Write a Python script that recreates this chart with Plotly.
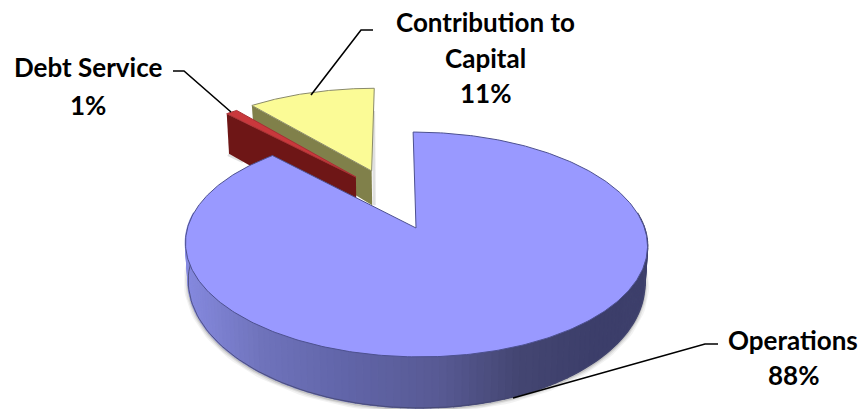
import numpy as np
import plotly.graph_objects as go

# Budget shares shown on the pie
categories = ["Operations", "Debt Service", "Contribution to Capital"]
shares = [88, 1, 11]

# Label lines with their centre positions in pixels
label_lines = [
    "Debt Service", "1%",
    "Contribution to", "Capital", "11%",
    "Operations", "88%",
]
label_x = [88, 88, 485, 485, 485, 793, 793]
label_y = [67, 105, 22, 58, 93, 340, 375]

# Leader lines from labels to slices, in pixels
leader_x = [[173, 184, 231], [373, 361, 311], [718, 705, 513]]
leader_y = [[71, 71, 112], [30, 30, 95], [344, 344, 398]]

W, H = 866, 409
CX, CY = 416, 228          # projected pie centre
RX, RY = 228.5, 110        # projected radii
PERSP = 0.1467             # foreshortening along the view axis
SHEAR = 0.03               # slight lean of the view
THICK = 36.0               # extrusion depth
THICK_POWER = 2.2          # how fast depth grows toward the viewer
TAPER = 0.988              # lower rim narrows slightly

slice_styles = {
    "Operations": dict(offset=(0.0, 0.0), top="#9999FF", edge="#4d5190", side="#555890", depth=1.0),
    "Debt Service": dict(offset=(-0.275, 0.497), top="#C9383C", edge="#a83034", side="#6E1616", depth=1.6),
    "Contribution to Capital": dict(offset=(-0.202, 0.561), top="#FBFB96", edge="#8a8a6a", side="#80804A", depth=1.13),
}

def project(u, v):
    """Map unit-disc coordinates onto the tilted pie plane."""
    u, v = np.asarray(u, float), np.asarray(v, float)
    w = 1 + PERSP * v
    y = CY - RY * v / w
    x = CX + RX * u / w - SHEAR * (CY - y)
    return x, y

def lower(u, v, depth=1.0):
    """Point on the underside directly below a top-surface point."""
    x, y = project(u, v)
    w = 1 + PERSP * np.asarray(v, float)
    return CX + (x - CX) * TAPER, y + depth * THICK / w ** THICK_POWER

def wedge(start, stop, offset, n=160):
    t = np.radians(np.linspace(start, stop, n))
    u = np.concatenate([[0], np.sin(t), [0]]) + offset[0]
    v = np.concatenate([[0], np.cos(t), [0]]) + offset[1]
    return project(u, v)

def polygon(x, y, fill, line=None, width=0):
    return go.Scatter(
        x=list(x), y=list(y), mode="lines", fill="toself", fillcolor=fill,
        line=dict(color=line or fill, width=width), hoverinfo="skip", showlegend=False,
    )

def blend(x):
    """Rim shading from lit left to dark right."""
    stops_x = [185, 260, 340, 440, 520, 600, 648]
    stops_c = np.array([
        [134, 138, 224], [112, 116, 188], [98, 102, 170], [88, 90, 148],
        [68, 70, 114], [60, 62, 106], [62, 64, 108],
    ])
    rgb = [np.interp(x, stops_x, stops_c[:, i]) for i in range(3)]
    return "rgb(%d,%d,%d)" % tuple(int(c) for c in rgb)

fig = go.Figure()

# Slice angles, clockwise from twelve o'clock
total = sum(shares)
ends = np.cumsum(shares) / total * 360
starts = np.concatenate([[0], ends[:-1]])
angles = {c: (s, e) for c, s, e in zip(categories, starts, ends)}

def cut_face(name):
    """Flat face along the leading cut of an exploded slice."""
    style = slice_styles[name]
    a = np.radians(angles[name][0])
    ou, ov = style["offset"]
    us = np.array([ou, ou + np.sin(a)])
    vs = np.array([ov, ov + np.cos(a)])
    x0, y0 = project(us, vs)
    x1, y1 = lower(us, vs, style["depth"])
    xs = [x0[0], x0[1], x1[1], x1[0]]
    ys = [y0[0], y0[1], y1[1], y1[0]]
    return xs, ys, style

# Soft shadow next to the capital slice
yx, yy, ystyle = cut_face("Contribution to Capital")
fig.add_trace(go.Scatter(
    x=[yx[0] + 2, yx[3] + 2], y=[yy[0] - 60, yy[3]], mode="lines",
    line=dict(color="rgba(0,0,0,0.12)", width=3), hoverinfo="skip", showlegend=False,
))

# Capital slice
fig.add_trace(polygon(yx, yy, ystyle["side"]))
gx, gy = wedge(*angles["Contribution to Capital"], ystyle["offset"])
fig.add_trace(polygon(gx, gy, ystyle["top"], ystyle["edge"], 1))

# Debt slice, nearer the viewer than the capital slice
rx_, ry_, rstyle = cut_face("Debt Service")
fig.add_trace(go.Scatter(
    x=[rx_[2] - 1, rx_[2] + 14], y=[ry_[2] + 1, ry_[2] + 8], mode="lines",
    line=dict(color="rgba(0,0,0,0.12)", width=3), hoverinfo="skip", showlegend=False,
))
fig.add_trace(polygon(rx_, ry_, rstyle["side"]))
gx, gy = wedge(*angles["Debt Service"], rstyle["offset"], n=20)
fig.add_trace(polygon(gx, gy, rstyle["top"], rstyle["edge"], 1))

# Operations slice: rim shadow, shaded rim bands, then top surface
theta = np.radians(np.linspace(82, 278, 120))
ru, rv = np.sin(theta), np.cos(theta)
bx, by = lower(ru, rv)
for width, alpha in [(9, 0.05), (6, 0.07), (3, 0.12)]:
    fig.add_trace(go.Scatter(
        x=list(bx), y=list(by + 1), mode="lines",
        line=dict(color=f"rgba(0,0,0,{alpha})", width=width),
        hoverinfo="skip", showlegend=False,
    ))

tx, ty = project(ru, rv)
for i in range(len(theta) - 1):
    xs = [tx[i], tx[i + 1], bx[i + 1], bx[i]]
    ys = [ty[i], ty[i + 1], by[i + 1], by[i]]
    fill = blend((tx[i] + tx[i + 1]) / 2)
    fig.add_trace(polygon(xs, ys, fill, fill, 1.6))

fig.add_trace(go.Scatter(
    x=list(bx), y=list(by), mode="lines", line=dict(color="#44466f", width=0.8),
    hoverinfo="skip", showlegend=False,
))

mstyle = slice_styles["Operations"]
gx, gy = wedge(*angles["Operations"], mstyle["offset"], n=400)
fig.add_trace(polygon(gx, gy, mstyle["top"], mstyle["edge"], 1))

# Leader lines
for xs, ys in zip(leader_x, leader_y):
    fig.add_trace(go.Scatter(
        x=xs, y=ys, mode="lines", line=dict(color="black", width=1.6),
        hoverinfo="skip", showlegend=False,
    ))

for text, x, y in zip(label_lines, label_x, label_y):
    fig.add_annotation(
        x=x, y=y, text=f"<b>{text}</b>", showarrow=False,
        xanchor="center", yanchor="middle",
        font=dict(family="Lato", size=26, color="black"),
    )

fig.update_layout(
    width=W, height=H, margin=dict(l=0, r=0, t=0, b=0),
    paper_bgcolor="white", plot_bgcolor="white",
    xaxis=dict(range=[0, W], visible=False, fixedrange=True),
    yaxis=dict(range=[H, 0], visible=False, fixedrange=True),
    showlegend=False,
)

fig.write_html("out.html")
